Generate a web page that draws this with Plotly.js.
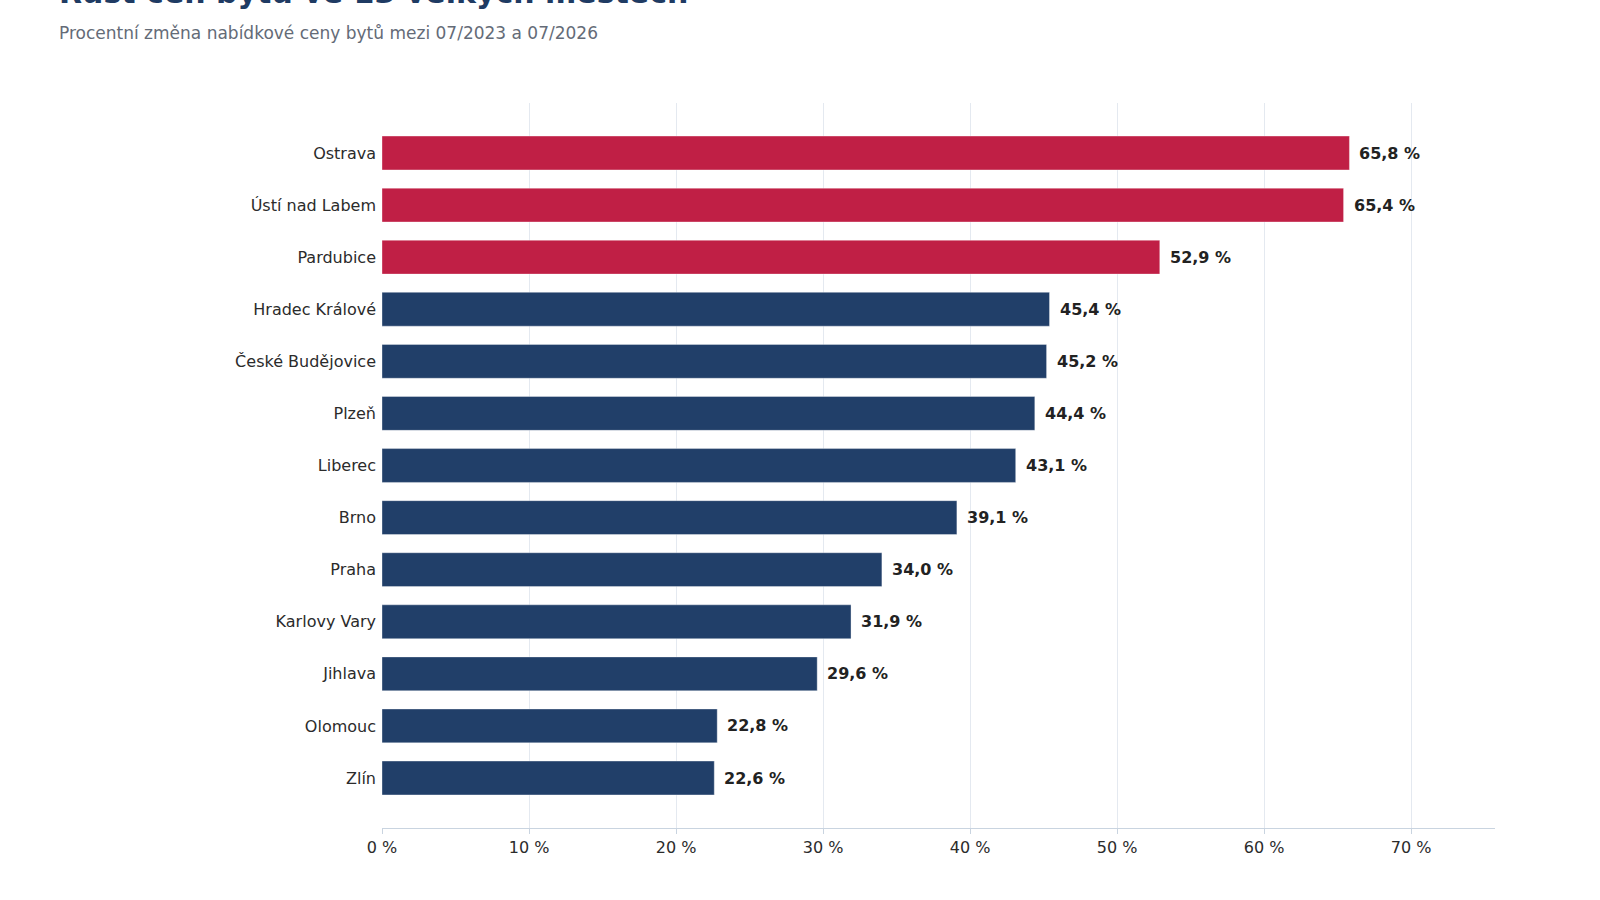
<!DOCTYPE html>
<html>
<head>
<meta charset="utf-8">
<script src="https://cdn.plot.ly/plotly-3.0.1.min.js"></script>
<style>
  html, body { margin: 0; padding: 0; background: #ffffff; }
  #chart { width: 1600px; height: 900px; }
</style>
</head>
<body>
<div id="chart"></div>
<script>
(function () {
  "use strict";

  var cities = ["Ostrava", "Ústí nad Labem", "Pardubice", "Hradec Králové", "České Budějovice",
    "Plzeň", "Liberec", "Brno", "Praha", "Karlovy Vary", "Jihlava", "Olomouc", "Zlín"];
  var growth = [65.8, 65.4, 52.9, 45.4, 45.2, 44.4, 43.1, 39.1, 34.0, 31.9, 29.6, 22.8, 22.6];
  var xTicks = [0, 10, 20, 30, 40, 50, 60, 70];

  var red = "#c01f45";
  var navy = "#213f69";
  var font = { family: "DejaVu Sans, sans-serif", color: "#2b2b2b" };

  var colors = growth.map(function (v, i) { return i < 3 ? red : navy; });
  var labels = growth.map(function (v) { return v.toFixed(1).replace(".", ",") + " %"; });

  var notes = growth.map(function (v, i) {
    return {
      x: v, y: cities[i], xref: "x", yref: "y",
      text: "<b>" + labels[i] + "</b>",
      showarrow: false, xanchor: "left", xshift: 8,
      font: { family: font.family, size: 16, color: "#222222" }
    };
  });

  notes.push({
    xref: "paper", yref: "paper", x: -0.292, y: 1.152, xanchor: "left", yanchor: "middle",
    text: "<b>Růst cen bytů ve 13 velkých městech</b>", showarrow: false,
    font: { family: font.family, size: 30, color: "#1f3b63" }
  });
  notes.push({
    xref: "paper", yref: "paper", x: -0.292, y: 1.097, xanchor: "left", yanchor: "middle",
    text: "Procentní změna nabídkové ceny bytů mezi 07/2023 a 07/2026", showarrow: false,
    font: { family: font.family, size: 17, color: "#646b77" }
  });

  Plotly.newPlot("chart", [{
    type: "bar",
    orientation: "h",
    x: growth,
    y: cities,
    marker: { color: colors, line: { color: "rgba(255,255,255,0.35)", width: 1 } },
    hovertemplate: "%{y}: %{x:.1f} %<extra></extra>"
  }], {
    font: font,
    width: 1600,
    height: 900,
    margin: { t: 103, r: 105, b: 72, l: 382 },
    paper_bgcolor: "#ffffff",
    plot_bgcolor: "#ffffff",
    showlegend: false,
    bargap: 0.35,
    annotations: notes,
    xaxis: {
      range: [0, 75.7],
      tickvals: xTicks,
      ticktext: xTicks.map(function (t) { return t + " %"; }),
      tickfont: { size: 16, color: "#2b2b2b" },
      gridcolor: "#e4e9f0",
      zeroline: false,
      showline: true,
      linecolor: "#c9d4e0",
      ticks: "outside",
      ticklen: 5,
      tickcolor: "#c9d4e0",
      fixedrange: true
    },
    yaxis: {
      categoryorder: "array",
      categoryarray: cities,
      autorange: false,
      range: [12.96, -0.96],
      tickfont: { size: 16, color: "#2b2b2b" },
      ticks: "",
      ticklabelstandoff: 5,
      showgrid: false,
      fixedrange: true
    }
  }, { displayModeBar: false, responsive: false });
}());
</script>
</body>
</html>
